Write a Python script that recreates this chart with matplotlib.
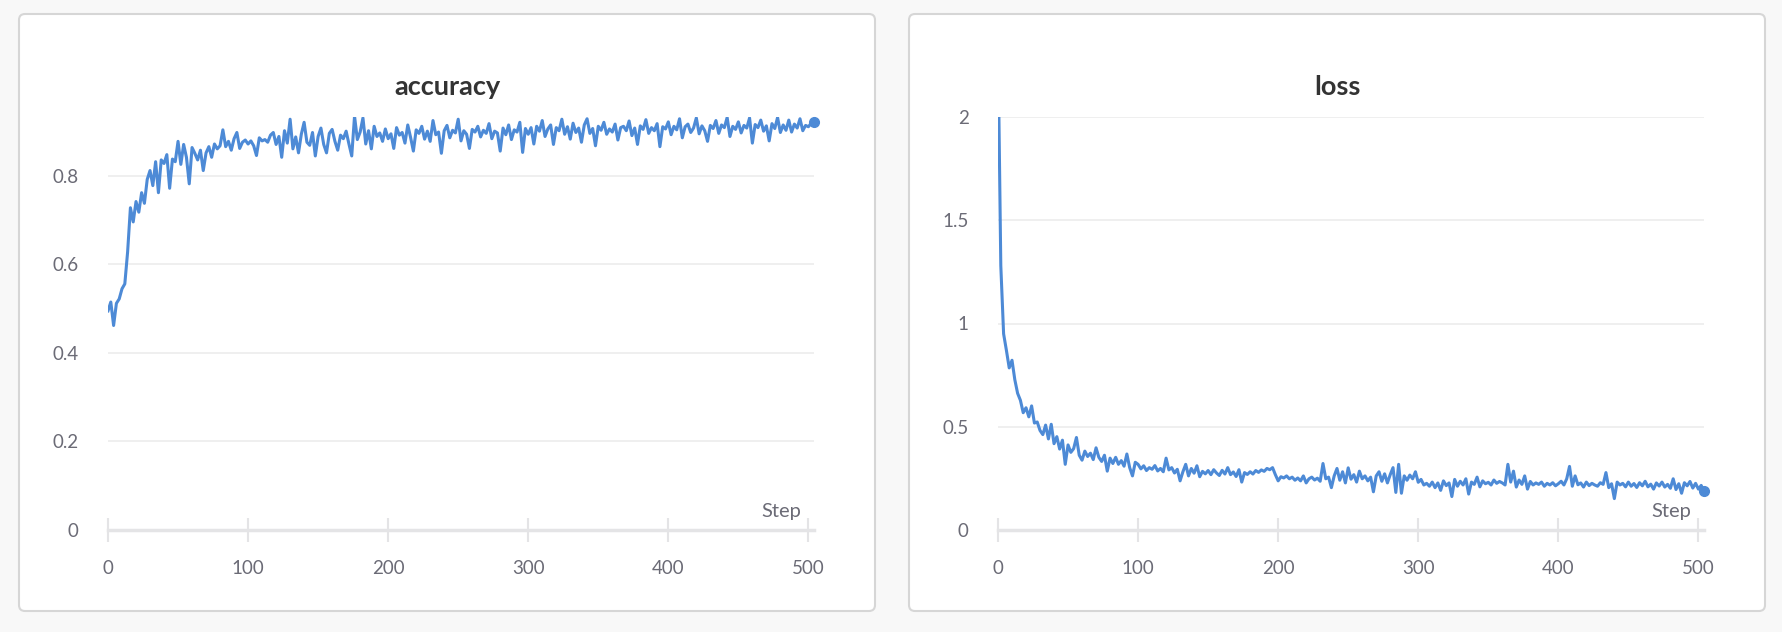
import matplotlib.pyplot as plt
from matplotlib.patches import FancyBboxPatch

# =============================
# DATA (every 2nd step)
# =============================
steps = list(range(0, 505, 2))

accuracy = [
    0.495, 0.515, 0.462, 0.512, 0.522, 0.545, 0.556, 0.628, 0.728, 0.696,
    0.742, 0.718, 0.762, 0.738, 0.792, 0.812, 0.778, 0.832, 0.762, 0.836,
    0.828, 0.848, 0.772, 0.838, 0.832, 0.878, 0.826, 0.871, 0.842, 0.782,
    0.864, 0.851, 0.836, 0.858, 0.812, 0.852, 0.866, 0.842, 0.872, 0.861,
    0.868, 0.904, 0.866, 0.878, 0.858, 0.884, 0.898, 0.862, 0.876, 0.881,
    0.872, 0.879, 0.868, 0.846, 0.886, 0.879, 0.882, 0.876, 0.892, 0.898,
    0.871, 0.889, 0.842, 0.902, 0.874, 0.928, 0.861, 0.888, 0.852, 0.894,
    0.921, 0.876, 0.869, 0.898, 0.845, 0.889, 0.908, 0.871, 0.852, 0.896,
    0.905, 0.878, 0.858, 0.892, 0.884, 0.901, 0.872, 0.845, 0.935, 0.882,
    0.899, 0.931, 0.872, 0.902, 0.861, 0.912, 0.889, 0.897, 0.878, 0.906,
    0.884, 0.895, 0.862, 0.909, 0.892, 0.898, 0.874, 0.915, 0.887, 0.856,
    0.904, 0.896, 0.912, 0.883, 0.901, 0.878, 0.925, 0.893, 0.899, 0.851,
    0.902, 0.914, 0.886, 0.903, 0.897, 0.928, 0.879, 0.902, 0.894, 0.862,
    0.905, 0.899, 0.912, 0.888, 0.903, 0.896, 0.918, 0.884, 0.901, 0.897,
    0.856, 0.908, 0.893, 0.915, 0.882, 0.904, 0.899, 0.921, 0.853, 0.907,
    0.894, 0.909, 0.872, 0.912, 0.901, 0.925, 0.889, 0.906, 0.915, 0.871,
    0.909, 0.902, 0.928, 0.894, 0.911, 0.883, 0.919, 0.898, 0.908, 0.876,
    0.915, 0.929, 0.896, 0.907, 0.868, 0.912, 0.903, 0.921, 0.894, 0.906,
    0.899, 0.917, 0.881, 0.909, 0.912, 0.902, 0.924, 0.891, 0.908, 0.871,
    0.913, 0.905, 0.927, 0.896, 0.909, 0.902, 0.918, 0.866, 0.911, 0.906,
    0.922, 0.893, 0.912, 0.904, 0.929, 0.886, 0.911, 0.917, 0.898, 0.908,
    0.931, 0.895, 0.913, 0.902, 0.878, 0.914, 0.907, 0.925, 0.896, 0.915,
    0.909, 0.932, 0.889, 0.912, 0.905, 0.922, 0.897, 0.914, 0.908, 0.931,
    0.874, 0.916, 0.909, 0.926, 0.901, 0.913, 0.879, 0.918, 0.907, 0.932,
    0.898, 0.915, 0.903, 0.926, 0.899, 0.917, 0.908, 0.929, 0.902, 0.914,
    0.911, 0.919, 0.921,
]

loss = [
    2.35, 1.28, 0.95, 0.87, 0.785, 0.822, 0.728, 0.662, 0.628, 0.568,
    0.592, 0.548, 0.601, 0.518, 0.523, 0.482, 0.462, 0.508, 0.441, 0.512,
    0.418, 0.452, 0.392, 0.435, 0.318, 0.412, 0.376, 0.394, 0.448, 0.362,
    0.338, 0.382, 0.356, 0.372, 0.341, 0.398, 0.352, 0.332, 0.362, 0.285,
    0.348, 0.322, 0.352, 0.318, 0.336, 0.309, 0.368, 0.302, 0.262, 0.328,
    0.318, 0.296, 0.311, 0.288, 0.302, 0.294, 0.312, 0.286, 0.298, 0.282,
    0.348, 0.291, 0.302, 0.276, 0.294, 0.238, 0.282, 0.318, 0.262, 0.298,
    0.275, 0.311, 0.258, 0.284, 0.272, 0.288, 0.268, 0.292, 0.276, 0.264,
    0.289, 0.271, 0.302, 0.268, 0.281, 0.259, 0.292, 0.232, 0.278, 0.269,
    0.282, 0.271, 0.288, 0.279, 0.291, 0.284, 0.298, 0.292, 0.302, 0.268,
    0.238, 0.258, 0.252, 0.262, 0.248, 0.256, 0.241, 0.252, 0.238, 0.262,
    0.228, 0.248, 0.256, 0.242, 0.251, 0.236, 0.322, 0.248, 0.256, 0.205,
    0.262, 0.298, 0.241, 0.282, 0.228, 0.301, 0.246, 0.268, 0.232, 0.285,
    0.248, 0.262, 0.238, 0.256, 0.185, 0.262, 0.282, 0.236, 0.272, 0.228,
    0.268, 0.302, 0.182, 0.318, 0.178, 0.262, 0.241, 0.266, 0.248, 0.282,
    0.231, 0.245, 0.218, 0.226, 0.212, 0.232, 0.205, 0.228, 0.192, 0.238,
    0.215, 0.228, 0.162, 0.245, 0.212, 0.236, 0.218, 0.248, 0.174, 0.232,
    0.221, 0.256, 0.209, 0.238, 0.224, 0.231, 0.218, 0.242, 0.226, 0.235,
    0.228, 0.218, 0.318, 0.232, 0.285, 0.208, 0.242, 0.221, 0.262, 0.198,
    0.235, 0.218, 0.228, 0.221, 0.232, 0.212, 0.226, 0.218, 0.229, 0.214,
    0.224, 0.236, 0.218, 0.248, 0.308, 0.212, 0.262, 0.219, 0.228, 0.208,
    0.232, 0.215, 0.226, 0.218, 0.212, 0.229, 0.221, 0.278, 0.205, 0.224,
    0.152, 0.232, 0.218, 0.226, 0.209, 0.232, 0.212, 0.225, 0.206, 0.229,
    0.214, 0.236, 0.209, 0.222, 0.198, 0.228, 0.213, 0.232, 0.208, 0.221,
    0.202, 0.248, 0.196, 0.224, 0.178, 0.229, 0.214, 0.235, 0.203, 0.226,
    0.198, 0.216, 0.187,
]

x_ticks = [0, 100, 200, 300, 400, 500]
acc_yticks = [0, 0.2, 0.4, 0.6, 0.8]
acc_ylabels = ["0", "0.2", "0.4", "0.6", "0.8"]
loss_yticks = [0, 0.5, 1, 1.5, 2]
loss_ylabels = ["0", "0.5", "1", "1.5", "2"]

# =============================
# STYLE
# =============================
W, H = 1782, 632
LINE = "#4d8ad6"
TICK_TXT = "#6b6b76"
GRID = "#ececec"
AXIS = "#e4e4e6"
plt.rcParams["font.family"] = ["Lato", "DejaVu Sans"]

fig = plt.figure(figsize=(W / 100, H / 100), dpi=100)
fig.patch.set_facecolor("#f8f8f8")

# background panels drawn in pixel units
bg = fig.add_axes([0, 0, 1, 1])
bg.set_xlim(0, W)
bg.set_ylim(H, 0)
bg.axis("off")
for px in (19, 909):
    bg.add_patch(FancyBboxPatch((px, 14), 856, 597,
                                boxstyle="round,pad=0,rounding_size=6",
                                facecolor="white", edgecolor="#d6d6d6", lw=1.5))


def make_panel(left_px, title, x, y, yticks, ylabels, ytop):
    ax = fig.add_axes([left_px / W, 1 - 530 / H, 706 / W, (530 - 117) / H])
    ax.set_facecolor("none")
    ax.plot(x, y, color=LINE, lw=2.2, solid_joinstyle="round")
    ax.plot(x[-1], y[-1], "o", color=LINE, ms=7, clip_on=False)
    ax.set_xlim(0, 504)
    ax.set_ylim(0, ytop)
    ax.set_xticks(x_ticks)
    ax.set_yticks(yticks)
    ax.set_yticklabels(ylabels)
    for s in ("top", "right", "left"):
        ax.spines[s].set_visible(False)
    ax.spines["bottom"].set_color(AXIS)
    ax.spines["bottom"].set_linewidth(2.5)
    ax.tick_params(axis="x", direction="inout", length=17, width=1.5,
                   color=AXIS, pad=13, labelsize=13.5, labelcolor=TICK_TXT)
    ax.tick_params(axis="y", length=0, pad=21, labelsize=13.5,
                   labelcolor=TICK_TXT)
    for t in yticks[1:]:
        ax.axhline(t, color=GRID, lw=1.2, zorder=0)
    ax.annotate("Step", xy=(1, 0), xycoords="axes fraction",
                xytext=(-9, 7), textcoords="offset points",
                ha="right", va="bottom", fontsize=14.5, color=TICK_TXT)
    fig.text((left_px - 89 + 428) / W, 1 - 87 / H, title, ha="center",
             va="center", fontsize=19.5, fontweight="bold", color="#333333")
    return ax


make_panel(108, "accuracy", steps, accuracy, acc_yticks, acc_ylabels, 0.933)
make_panel(998, "loss", steps, loss, loss_yticks, loss_ylabels, 2.0)

fig.savefig("out.png", dpi=100, facecolor=fig.get_facecolor())
